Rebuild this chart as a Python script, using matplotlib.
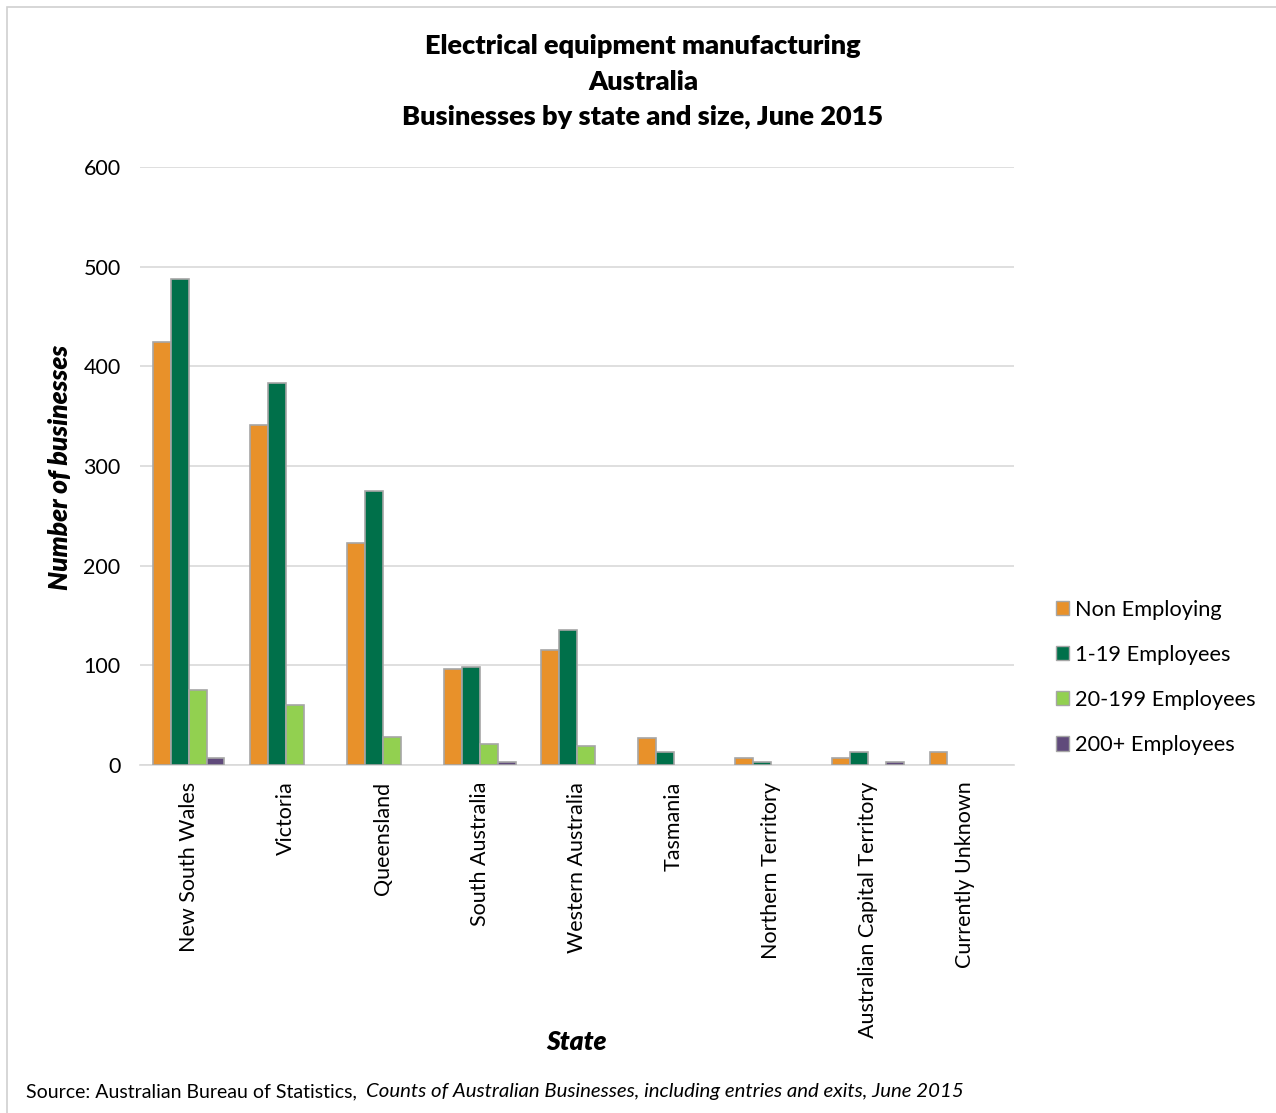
import numpy as np
import matplotlib
matplotlib.use('Agg')
import matplotlib.pyplot as plt
from matplotlib.patches import Patch, Rectangle

plt.rcParams['font.family'] = ['Lato', 'DejaVu Sans']

states = ['New South Wales', 'Victoria', 'Queensland', 'South Australia',
          'Western Australia', 'Tasmania', 'Northern Territory',
          'Australian Capital Territory', 'Currently Unknown']
non_employing = [424, 341, 223, 96, 115, 27, 7, 7, 13]
emp_1_19 = [488, 383, 275, 98, 135, 13, 3, 13, 0]
emp_20_199 = [75, 60, 28, 21, 19, 0, 0, 0, 0]
emp_200 = [7, 0, 0, 3, 0, 0, 0, 3, 0]
series_names = ['Non Employing', '1-19 Employees', '20-199 Employees', '200+ Employees']
colors = ['#E8912A', '#00704A', '#92D050', '#604A7B']

fig = plt.figure(figsize=(12.76, 11.13), dpi=100)
ax = fig.add_axes([140/1276, 1 - 765/1113, (1014-140)/1276, (765-167)/1113])

x = np.arange(len(states))
w = 0.185
allseries = [non_employing, emp_1_19, emp_20_199, emp_200]
for i, vals in enumerate(allseries):
    v = np.array(vals, dtype=float)
    v[v == 0] = np.nan  # empty cells draw nothing
    ax.bar(x + (i - 1.5) * w, v, w, color=colors[i], edgecolor='#a6a6a6',
           linewidth=1.2, zorder=3)

ax.set_xlim(-0.5, len(states) - 0.5)
ax.set_ylim(0, 600)
ax.set_yticks(range(0, 601, 100))
ax.yaxis.grid(True, color='#d9d9d9', linewidth=1.2, zorder=0)
ax.set_xticks(x)
ax.set_xticklabels(states, rotation=90, fontsize=15.5)
ax.tick_params(axis='y', labelsize=15.5, length=0, pad=14)
ax.tick_params(axis='x', length=0, pad=12)
for s in ['top', 'right', 'left']:
    ax.spines[s].set_visible(False)
ax.spines['bottom'].set_color('#d9d9d9')
ax.spines['bottom'].set_linewidth(1.2)

fig.text(60/1276, 1 - 467/1113, 'Number of businesses', rotation=90, ha='center', va='center',
         fontsize=19, fontweight='heavy', style='italic')
fig.text(576/1276, 1 - 1042/1113, 'State', ha='center', va='center',
         fontsize=19, fontweight='heavy', style='italic')

for yy, line in zip([46, 82, 117], ['Electrical equipment manufacturing', 'Australia',
                                    'Businesses by state and size, June 2015']):
    fig.text(643/1276, 1 - yy/1113, line, ha='center', va='center',
             fontsize=19.5, fontweight='heavy')

handles = [Patch(facecolor=c, edgecolor='#a6a6a6', linewidth=1.0) for c in colors]
leg = fig.legend(handles, series_names, loc='upper left', bbox_to_anchor=(1045/1276, 1 - 589/1113),
                 frameon=False, fontsize=15.7, handlelength=0.62, handleheight=0.62,
                 handletextpad=0.25, labelspacing=1.15, borderpad=0)

fig.text(26/1276, 1 - 1092/1113, 'Source: Australian Bureau of Statistics, ', ha='left', va='center',
         fontsize=14)
fig.text(366/1276, 1 - 1092/1113, 'Counts of Australian Businesses, including entries and exits, June 2015',
         ha='left', va='center', fontsize=14.7, style='italic')

fig.patches.append(Rectangle((7/1276, -0.01), 1.1, 1 - 7/1113 + 0.01, transform=fig.transFigure,
                             fill=False, edgecolor='#d0d0d0', linewidth=1.2))

fig.savefig('out.png', dpi=100)
